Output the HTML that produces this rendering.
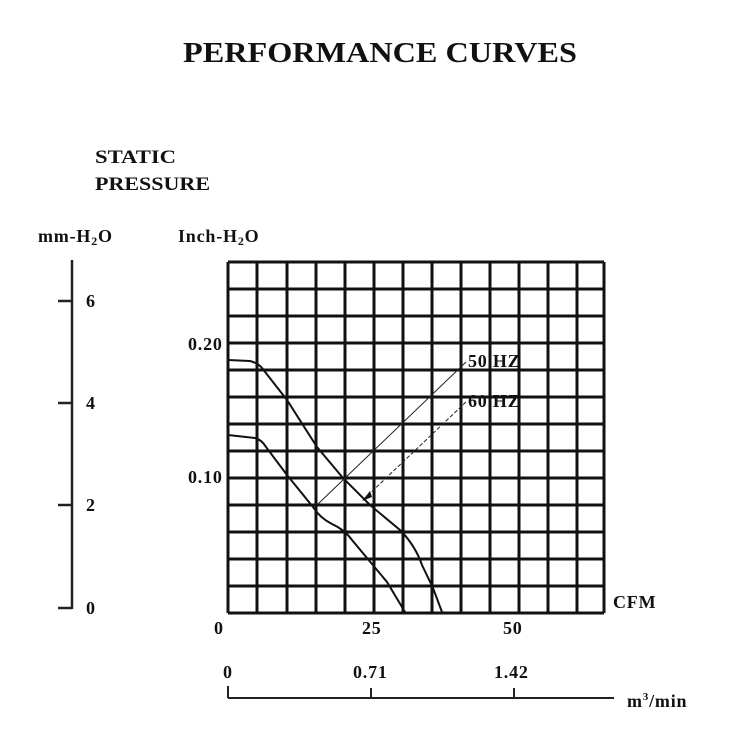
<!DOCTYPE html>
<html><head><style>
html,body{margin:0;padding:0;background:#fff;}
svg{display:block;}
text{font-family:"Liberation Serif",serif;font-weight:bold;fill:#111;}
</style></head><body>
<svg width="750" height="750" viewBox="0 0 750 750" xmlns="http://www.w3.org/2000/svg">
<text x="183" y="62" font-size="28" textLength="394" lengthAdjust="spacingAndGlyphs">PERFORMANCE  CURVES</text>
<text x="95" y="163" font-size="19" textLength="81" lengthAdjust="spacingAndGlyphs">STATIC</text>
<text x="95" y="190" font-size="19" textLength="115" lengthAdjust="spacingAndGlyphs">PRESSURE</text>
<g font-size="18" letter-spacing="0.8">
<text x="38" y="242">mm-H<tspan font-size="12" dy="3">2</tspan><tspan dy="-3">O</tspan></text>
<text x="178" y="242">Inch-H<tspan font-size="12" dy="3">2</tspan><tspan dy="-3">O</tspan></text>
</g>
<!-- left mm axis -->
<g stroke="#222" stroke-width="2.5" fill="none">
<line x1="72" y1="260" x2="72" y2="609"/>
<line x1="58" y1="301" x2="72" y2="301"/>
<line x1="58" y1="403" x2="72" y2="403"/>
<line x1="58" y1="505" x2="72" y2="505"/>
<line x1="58" y1="608" x2="72" y2="608"/>
</g>
<g font-size="18" letter-spacing="0.8">
<text x="86" y="307">6</text>
<text x="86" y="409">4</text>
<text x="86" y="511">2</text>
<text x="86" y="614">0</text>
<text x="188" y="350">0.20</text>
<text x="188" y="483">0.10</text>
<text x="214" y="634">0</text>
<text x="362" y="634">25</text>
<text x="503" y="634">50</text>
<text x="613" y="608">CFM</text>
<text x="223" y="678">0</text>
<text x="353" y="678">0.71</text>
<text x="494" y="678">1.42</text>
<text x="627" y="707">m<tspan font-size="11" dy="-7">3</tspan><tspan dy="7">/min</tspan></text>
</g>
<!-- grid -->
<g stroke="#111" stroke-width="3">
<line x1="228" y1="262" x2="228" y2="613"/><line x1="257" y1="262" x2="257" y2="613"/>
<line x1="287" y1="262" x2="287" y2="613"/><line x1="316" y1="262" x2="316" y2="613"/>
<line x1="345" y1="262" x2="345" y2="613"/><line x1="374" y1="262" x2="374" y2="613"/>
<line x1="403" y1="262" x2="403" y2="613"/><line x1="432" y1="262" x2="432" y2="613"/>
<line x1="461" y1="262" x2="461" y2="613"/><line x1="490" y1="262" x2="490" y2="613"/>
<line x1="519" y1="262" x2="519" y2="613"/><line x1="548" y1="262" x2="548" y2="613"/>
<line x1="577" y1="262" x2="577" y2="613"/><line x1="604" y1="262" x2="604" y2="613"/>
<line x1="228" y1="262" x2="604" y2="262"/><line x1="228" y1="289" x2="604" y2="289"/>
<line x1="228" y1="316" x2="604" y2="316"/><line x1="228" y1="343" x2="604" y2="343"/>
<line x1="228" y1="370" x2="604" y2="370"/><line x1="228" y1="397" x2="604" y2="397"/>
<line x1="228" y1="424" x2="604" y2="424"/><line x1="228" y1="451" x2="604" y2="451"/>
<line x1="228" y1="478" x2="604" y2="478"/><line x1="228" y1="505" x2="604" y2="505"/>
<line x1="228" y1="532" x2="604" y2="532"/><line x1="228" y1="559" x2="604" y2="559"/>
<line x1="228" y1="586" x2="604" y2="586"/><line x1="228" y1="613" x2="604" y2="613"/>
</g>
<!-- curves -->
<g stroke="#111" stroke-width="2" fill="none">
<path d="M228,360 L250,361 Q258,363 262,368 L287,400 L317,447 L343,478 L370,505 L400,530 Q415,545 422,565 L433,588 L442,612"/>
<path d="M228,435 L255,438 Q262,440 266,447 L287,475 L313,507 Q320,518 332,524 Q345,530 352,540 L367,558 L387,582 L405,612"/>
</g>
<g stroke="#222" stroke-width="1" fill="none">
<line x1="466" y1="362" x2="318" y2="504"/>
<line x1="466" y1="402" x2="365" y2="498" stroke-dasharray="4,2"/>
</g>
<polygon points="362,501 370,491 372,497" fill="#111"/>
<g font-size="18" letter-spacing="0.8" fill="#222"><text x="468" y="367">50 HZ</text><text x="468" y="407">60 HZ</text></g>
<!-- bottom m3 axis -->
<g stroke="#222" stroke-width="2" fill="none">
<line x1="228" y1="698" x2="614" y2="698"/>
<line x1="228" y1="686" x2="228" y2="698"/>
<line x1="371" y1="688" x2="371" y2="698"/>
<line x1="514" y1="688" x2="514" y2="698"/>
</g>
</svg>
</body></html>
